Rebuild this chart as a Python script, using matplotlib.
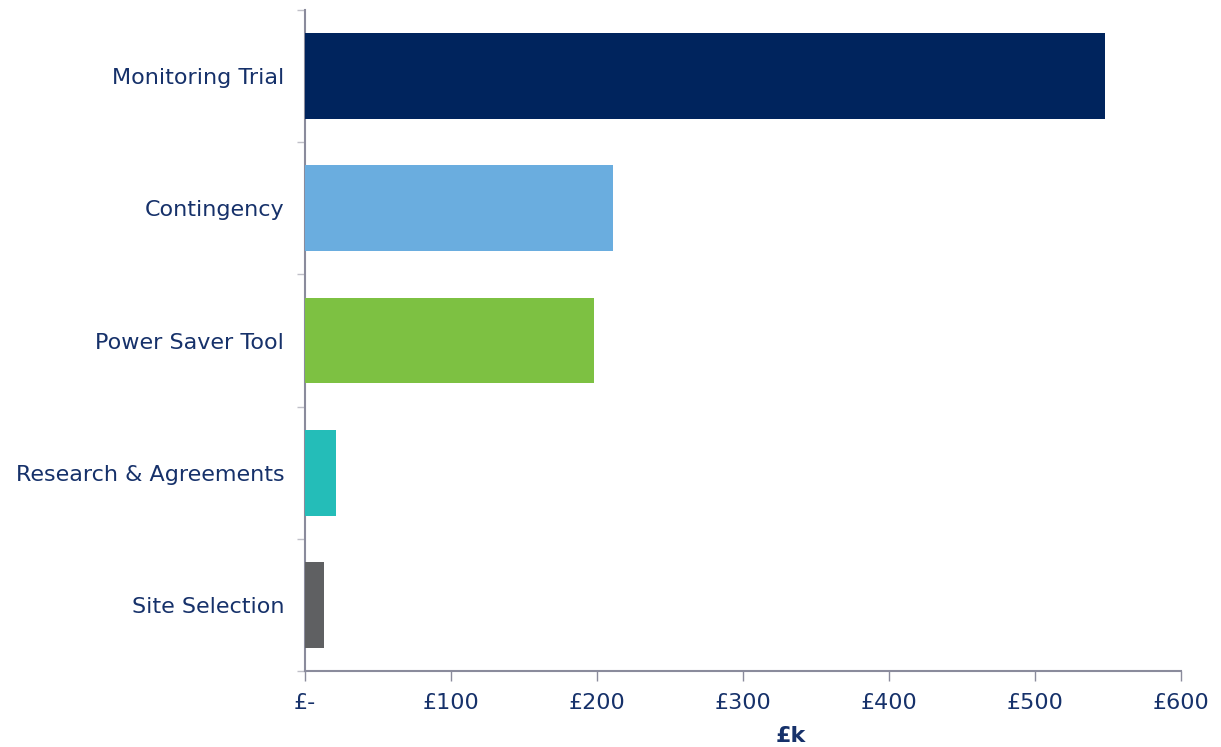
import matplotlib.pyplot as plt
from matplotlib.ticker import FuncFormatter

categories = ["Monitoring Trial", "Contingency", "Power Saver Tool",
              "Research & Agreements", "Site Selection"]
values = [548, 211, 198, 21, 13]
colors = ["#00245d", "#6aaddf", "#7dc142", "#24bdb8", "#5f6062"]

x_ticks = [0, 100, 200, 300, 400, 500, 600]

text_color = "#16316a"
axis_color = "#8a8b9c"
fs = 16

fig = plt.figure(figsize=(12.21, 7.47), dpi=100)
ax = fig.add_axes([0.2498, 0.1017, 0.7174, 0.8849])

ypos = list(range(len(categories)))[::-1]
ax.barh(ypos, values, height=0.65, color=colors, zorder=3)

ax.set_xlim(0, 600)
ax.set_ylim(-0.5, len(categories) - 0.5)
ax.set_xticks(x_ticks)
ax.xaxis.set_major_formatter(FuncFormatter(lambda v, p: "£-" if v == 0 else f"£{v:.0f}"))

# category labels sit between tick marks placed at the group boundaries
ax.set_yticks([y - 0.5 for y in range(len(categories) + 1)])
ax.set_yticklabels([])
ax.set_yticks(ypos, minor=True)
ax.set_yticklabels(categories, minor=True)
ax.tick_params(axis="y", which="minor", length=0, pad=15, labelsize=fs, labelcolor=text_color)
ax.tick_params(axis="y", which="major", length=6, width=1, color="#c0c0c8")
ax.tick_params(axis="x", length=7, width=1, color=axis_color, pad=9,
               labelsize=fs, labelcolor=text_color)

for side in ["top", "right"]:
    ax.spines[side].set_visible(False)
for side in ["left", "bottom"]:
    ax.spines[side].set_color(axis_color)
    ax.spines[side].set_linewidth(1.5)

ax.set_xlabel("£k", fontsize=fs, fontweight="bold", color=text_color,
              labelpad=9, x=0.554)

fig.savefig("out.png", dpi=100)
